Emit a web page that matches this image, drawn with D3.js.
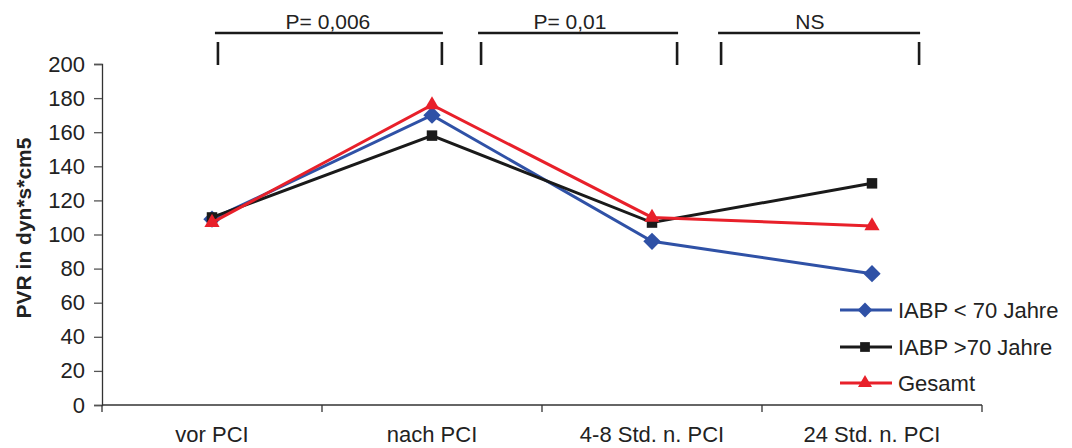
<!DOCTYPE html>
<html>
<head>
<meta charset="utf-8">
<script src="https://cdn.jsdelivr.net/npm/d3@7"></script>
<style>
  html, body { margin: 0; padding: 0; background: #fff; }
  svg { display: block; font-family: "Liberation Sans", Arial, sans-serif; }
</style>
</head>
<body>
<svg id="chart" width="1072" height="448"></svg>
<script>
// Zeitpunkte der Messung
const categories = ["vor PCI", "nach PCI", "4-8 Std. n. PCI", "24 Std. n. PCI"];
// PVR-Mittelwerte je Gruppe
const iabpUnder70 = [109, 170, 96, 77];
const iabpOver70 = [110, 158, 107, 130];
const gesamt = [107, 176, 110, 105];
const seriesNames = ["IABP < 70 Jahre", "IABP >70 Jahre", "Gesamt"];
const yTicks = [0, 20, 40, 60, 80, 100, 120, 140, 160, 180, 200];
// Signifikanzangaben zwischen benachbarten Zeitpunkten
const pLabels = ["P= 0,006", "P= 0,01", "NS"];

const svg = d3.select("#chart");
const plotLeft = 102, plotRight = 982, plotTop = 64, plotBottom = 405;

const x = d3.scaleBand().domain(categories).range([plotLeft, plotRight]).paddingInner(0).paddingOuter(0);
const y = d3.scaleLinear().domain([0, 200]).range([plotBottom, plotTop]);
const cx = c => x(c) + x.bandwidth() / 2;
// Position in Kategorie-Einheiten (0 = erste Kategoriemitte)
const pos = d3.scaleLinear().domain([0, 1]).range([cx(categories[0]), cx(categories[1])]);

const axisColor = "#333";
const textColor = "#222";

// y-Achse
const yAxis = svg.append("g")
  .attr("transform", `translate(${plotLeft},0)`)
  .call(d3.axisLeft(y).tickValues(yTicks).tickSize(8).tickPadding(9));
yAxis.select(".domain").attr("stroke", axisColor).attr("stroke-width", 1.3);
yAxis.selectAll(".tick line").attr("stroke", "#555").attr("stroke-width", 1.3);
yAxis.selectAll(".tick text").attr("font-size", 22).attr("fill", textColor)
  .attr("font-family", "Liberation Sans, Arial, sans-serif");

// x-Achse mit Teilstrichen an den Kategoriegrenzen
const xg = svg.append("g");
xg.append("line").attr("x1", plotLeft).attr("x2", plotRight).attr("y1", plotBottom).attr("y2", plotBottom)
  .attr("stroke", axisColor).attr("stroke-width", 1.3);
const bounds = categories.map(c => x(c)).concat([x(categories[categories.length - 1]) + x.bandwidth()]);
xg.selectAll("line.tk").data(bounds).enter().append("line")
  .attr("class", "tk")
  .attr("x1", d => d).attr("x2", d => d)
  .attr("y1", plotBottom).attr("y2", plotBottom + 7)
  .attr("stroke", axisColor).attr("stroke-width", 1.3);
xg.selectAll("text").data(categories).enter().append("text")
  .attr("x", d => cx(d))
  .attr("y", 442)
  .attr("text-anchor", "middle")
  .attr("font-size", 22)
  .attr("fill", textColor)
  .text(d => d);

// y-Achsentitel
svg.append("text")
  .attr("transform", `translate(31,228) rotate(-90)`)
  .attr("text-anchor", "middle")
  .attr("font-size", 21)
  .attr("font-weight", "bold")
  .attr("fill", textColor)
  .text("PVR in dyn*s*cm5");

// Signifikanzklammern (Enden und Beschriftung in Kategorie-Einheiten)
const bracketEnds = [[0.027, 1.045], [1.223, 2.114], [2.314, 3.214]];
const labelPos = [0.527, 1.627, 2.718];
const bracketY = 33;
pLabels.forEach((label, i) => {
  const x0 = pos(bracketEnds[i][0]);
  const x1 = pos(bracketEnds[i][1]);
  const g = svg.append("g");
  g.append("line").attr("x1", x0 - 3).attr("x2", x1 + 1).attr("y1", bracketY).attr("y2", bracketY)
    .attr("stroke", "#1a1a1a").attr("stroke-width", 2.5);
  [x0, x1].forEach(xx => {
    g.append("line").attr("x1", xx).attr("x2", xx).attr("y1", 42).attr("y2", 65)
      .attr("stroke", "#1a1a1a").attr("stroke-width", 2.6);
  });
  g.append("text")
    .attr("x", pos(labelPos[i]))
    .attr("y", 29)
    .attr("text-anchor", "middle")
    .attr("font-size", 21)
    .attr("fill", textColor)
    .text(label);
});

// Raute als um 45° gedrehtes Quadrat
const diamond = {
  draw(context, size) {
    const r = Math.sqrt(size / 2);
    context.moveTo(0, -r);
    context.lineTo(r, 0);
    context.lineTo(0, r);
    context.lineTo(-r, 0);
    context.closePath();
  }
};

// Datenreihen
const series = [
  { name: seriesNames[0], values: iabpUnder70, color: "#2f51a6", symbol: diamond, size: 150, legendSize: 110 },
  { name: seriesNames[1], values: iabpOver70, color: "#1a1a1a", symbol: d3.symbolSquare, size: 110, legendSize: 95 },
  { name: seriesNames[2], values: gesamt, color: "#e8202a", symbol: d3.symbolTriangle, size: 100, legendSize: 85 }
];

const line = d3.line()
  .x((d, i) => cx(categories[i]))
  .y(d => y(d));

series.forEach(s => {
  svg.append("path")
    .datum(s.values)
    .attr("d", line)
    .attr("fill", "none")
    .attr("stroke", s.color)
    .attr("stroke-width", 3);
  svg.selectAll(null).data(s.values).enter().append("path")
    .attr("d", d3.symbol().type(s.symbol).size(s.size))
    .attr("transform", (d, i) => `translate(${cx(categories[i])},${y(d)})`)
    .attr("fill", s.color);
});

// Legende
const legendY = [310, 347, 383];
series.forEach((s, i) => {
  const g = svg.append("g").attr("transform", `translate(840,${legendY[i]})`);
  g.append("line").attr("x1", 0).attr("x2", 52).attr("y1", 0).attr("y2", 0)
    .attr("stroke", s.color).attr("stroke-width", 3);
  g.append("path").attr("d", d3.symbol().type(s.symbol).size(s.legendSize)).attr("transform", "translate(25,0)")
    .attr("fill", s.color);
  g.append("text").attr("x", 58).attr("y", 8).attr("font-size", 22).attr("fill", textColor).text(s.name);
});
</script>
</body>
</html>
